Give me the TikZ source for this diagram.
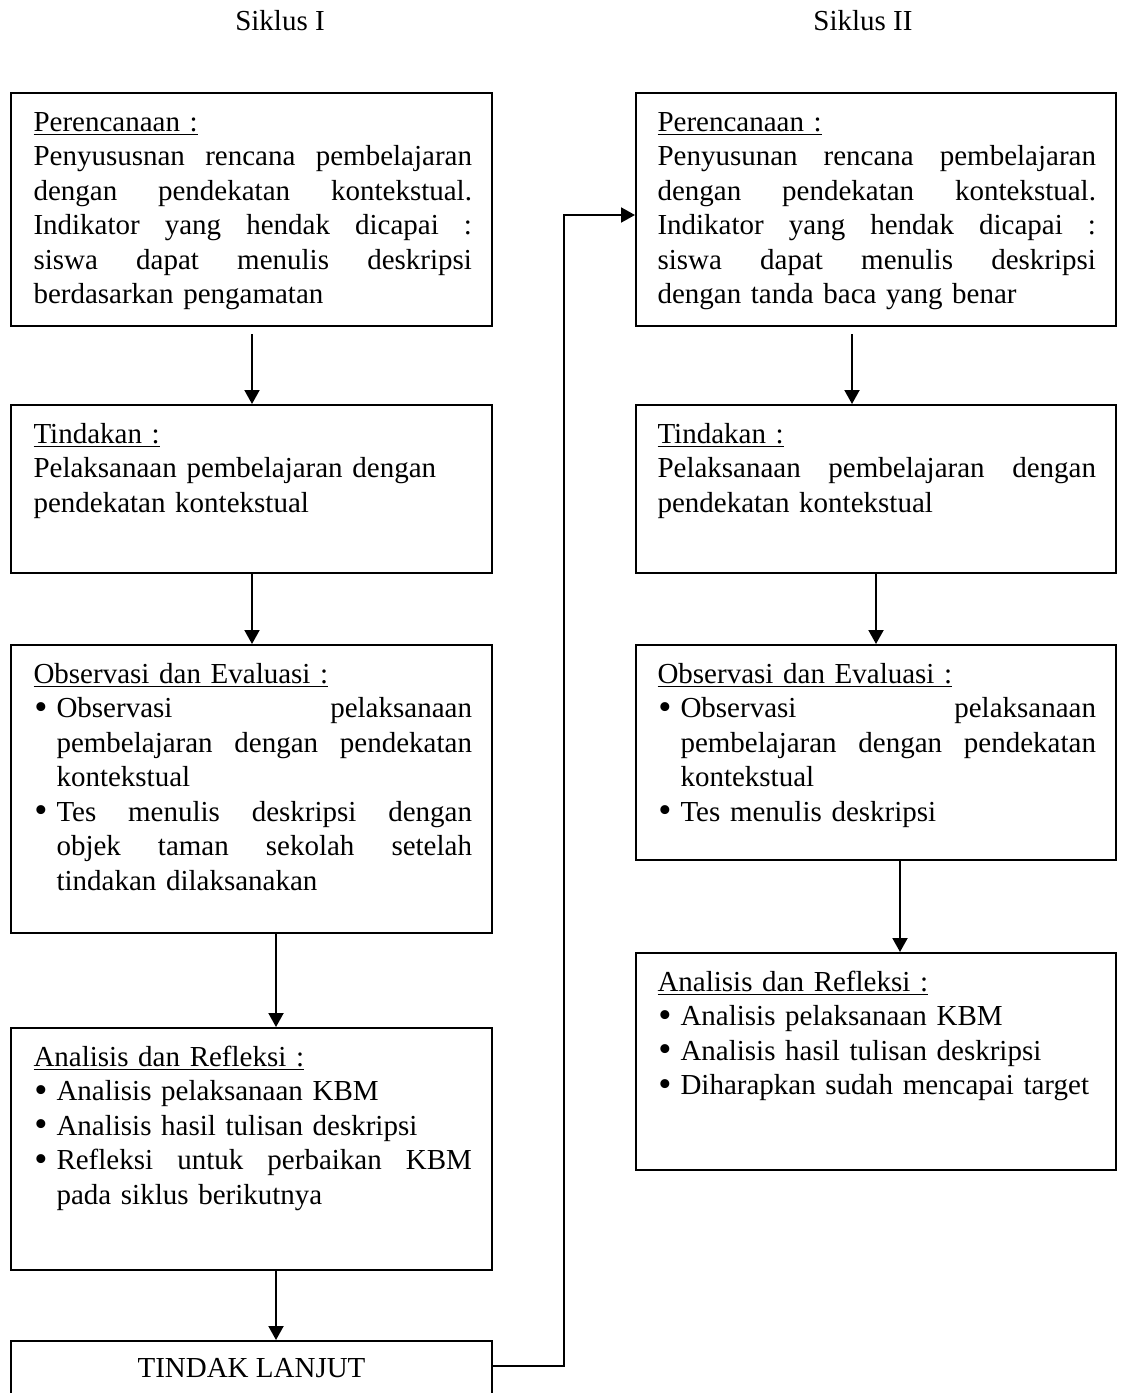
\documentclass[tikz,border=0pt]{standalone}
\usepackage{fontspec}
\setmainfont{Liberation Serif}
\usetikzlibrary{arrows.meta,calc}
\newdimen\bind \bind=9.2pt
\newdimen\tw \tw=175.4pt
\newdimen\twb \twb=\dimexpr\tw-\bind\relax
\newcommand\bul{\makebox[\bind][l]{\hspace{0.3pt}\raisebox{-0.7pt}{\fontsize{15}{15}\selectfont\textbullet}}}
\newcommand\jl[1]{\leavevmode\hbox to \tw{\spaceskip=0.25em plus 1fill\relax #1}}
\newcommand\bj[1]{\leavevmode\hbox to \tw{\bul\hbox to \twb{\spaceskip=0.25em plus 1fill\relax #1}}}
\newcommand\bp[1]{\bul#1}
\newcommand\cj[1]{\leavevmode\hbox to \tw{\hspace*{\bind}\hbox to \twb{\spaceskip=0.25em plus 1fill\relax #1}}}
\newcommand\cp[1]{\hspace*{\bind}#1}
\tikzset{
  box/.style={draw, line width=0.8pt, inner sep=0pt},
  lbox/.style={box, minimum width=192.4pt},
  rbox/.style={box, minimum width=192pt},
  txt/.style={inner sep=0pt, anchor=base west, text width=175.4pt, align=left, font=\fontsize{11.6}{13.8}\selectfont},
  ctxt/.style={inner sep=0pt, anchor=base, font=\fontsize{11.6}{13.8}\selectfont},
  arr/.style={line width=0.8pt, -{Triangle[length=5.6pt,width=6pt]}}
}
\begin{document}
\begin{tikzpicture}[x=0.4pt,y=-0.4pt]
\useasboundingbox (0,0) rectangle (1125,1393);
\clip (0,0) rectangle (1125,1393);
% titles
\node[ctxt] (s1) at (280,30) {Siklus I};
\node[ctxt] (s2) at (863,30) {Siklus II};
% left column boxes
\node[lbox, minimum height=93.2pt] (L1) at (251.5,209.5) {};
\node[lbox, minimum height=67.2pt] (L2) at (251.5,489) {};
\node[lbox, minimum height=115.2pt] (L3) at (251.5,789) {};
\node[lbox, minimum height=96.8pt] (L4) at (251.5,1149) {};
\node[lbox, minimum height=40pt] (L5) at (251.5,1391) {};
% right column boxes
\node[rbox, minimum height=93.2pt] (R1) at (876,209.5) {};
\node[rbox, minimum height=67.2pt] (R2) at (876,489) {};
\node[rbox, minimum height=86pt] (R3) at (876,752.5) {};
\node[rbox, minimum height=86.8pt] (R4) at (876,1061.5) {};
% left texts
\node[txt] (tL1) at (33,131) {\underline{Perencanaan :}\\
\jl{Penyususnan rencana pembelajaran}\\
\jl{dengan pendekatan kontekstual.}\\
\jl{Indikator yang hendak dicapai :}\\
\jl{siswa dapat menulis deskripsi}\\
berdasarkan pengamatan};
\node[txt] (tL2) at (33,443) {\underline{Tindakan :}\\
Pelaksanaan pembelajaran dengan\\
pendekatan kontekstual};
\node[txt] (tL3) at (33,683) {\underline{Observasi dan Evaluasi :}\\
\bj{Observasi pelaksanaan}\\
\cj{pembelajaran dengan pendekatan}\\
\cp{kontekstual}\\
\bj{Tes menulis deskripsi dengan}\\
\cj{objek taman sekolah setelah}\\
\cp{tindakan dilaksanakan}};
\node[txt] (tL4) at (33,1066) {\underline{Analisis dan Refleksi :}\\
\bp{Analisis pelaksanaan KBM}\\
\bp{Analisis hasil tulisan deskripsi}\\
\bj{Refleksi untuk perbaikan KBM}\\
\cp{pada siklus berikutnya}};
\node[ctxt] (tL5) at (251.5,1377) {TINDAK LANJUT};
% right texts
\node[txt] (tR1) at (657,131) {\underline{Perencanaan :}\\
\jl{Penyusunan rencana pembelajaran}\\
\jl{dengan pendekatan kontekstual.}\\
\jl{Indikator yang hendak dicapai :}\\
\jl{siswa dapat menulis deskripsi}\\
dengan tanda baca yang benar};
\node[txt] (tR2) at (657,443) {\underline{Tindakan :}\\
\jl{Pelaksanaan pembelajaran dengan}\\
pendekatan kontekstual};
\node[txt] (tR3) at (657,683) {\underline{Observasi dan Evaluasi :}\\
\bj{Observasi pelaksanaan}\\
\cj{pembelajaran dengan pendekatan}\\
\cp{kontekstual}\\
\bp{Tes menulis deskripsi}};
\node[txt] (tR4) at (657,991) {\underline{Analisis dan Refleksi :}\\
\bp{Analisis pelaksanaan KBM}\\
\bp{Analisis hasil tulisan deskripsi}\\
\bp{Diharapkan sudah mencapai target}};
% connector x positions
\coordinate (a1) at (252,0);
\coordinate (a2) at (276,0);
\coordinate (b1) at (852,0);
\coordinate (b2) at (876,0);
\coordinate (b3) at (900,0);
\coordinate (k1) at (564,1366);
\coordinate (k2) at (564,215);
% connectors
\draw[arr, shorten <=2.8pt] (L1.south -| a1) -- (L2.north -| a1);
\draw[arr] (L2.south -| a1) -- (L3.north -| a1);
\draw[arr] (L3.south -| a2) -- (L4.north -| a2);
\draw[arr] (L4.south -| a2) -- (L5.north -| a2);
\draw[arr, shorten <=2.8pt] (R1.south -| b1) -- (R2.north -| b1);
\draw[arr] (R2.south -| b2) -- (R3.north -| b2);
\draw[arr] (R3.south -| b3) -- (R4.north -| b3);
\draw[arr] (L5.east |- k1) -- (k1) -- (k2) -- (R1.west |- k2);
\end{tikzpicture}
\end{document}
